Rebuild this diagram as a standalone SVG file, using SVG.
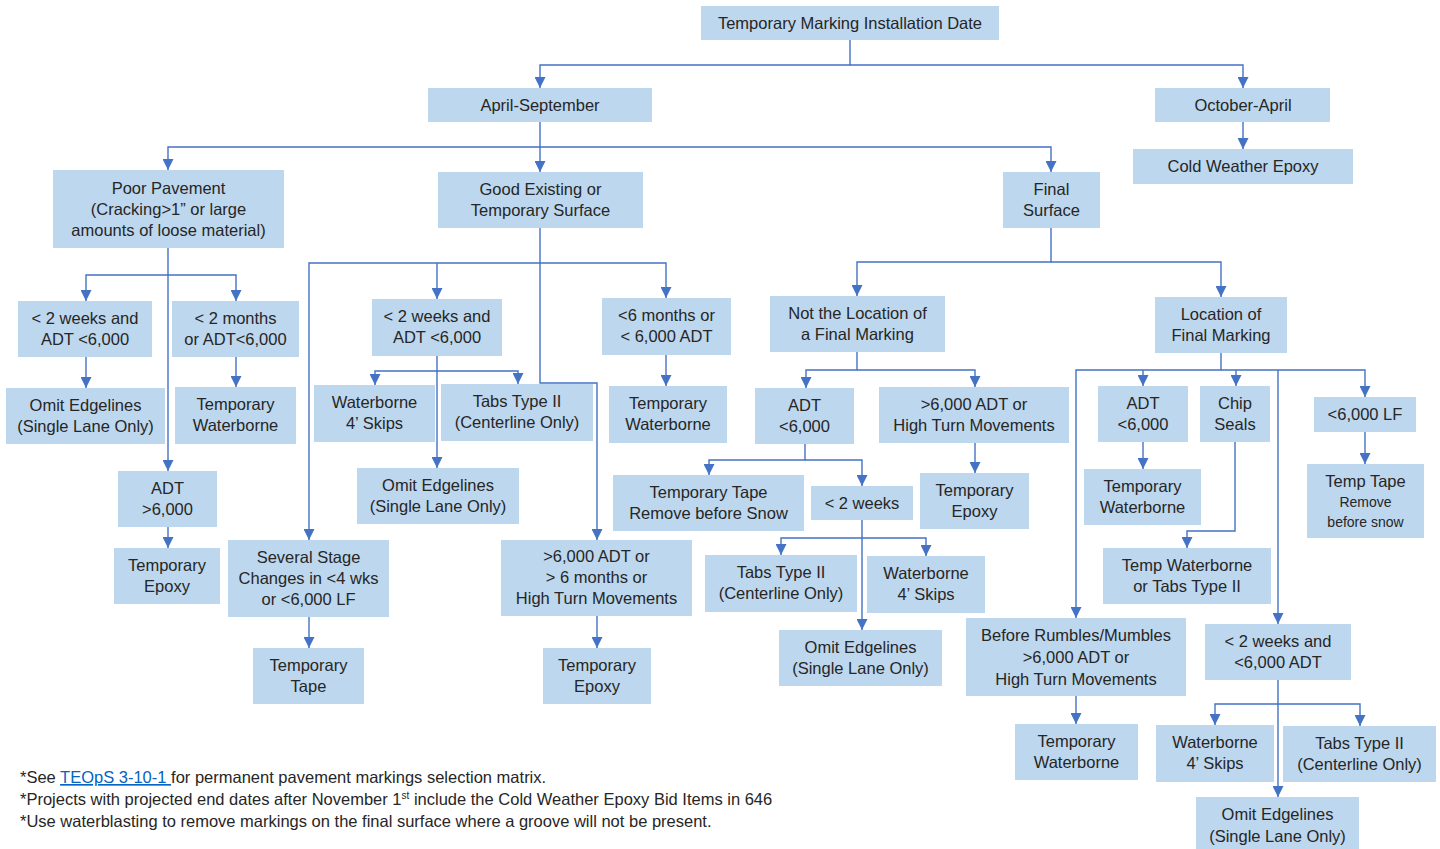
<svg xmlns="http://www.w3.org/2000/svg" width="1440" height="849" viewBox="0 0 1440 849">
<defs>
<style>
.n rect{fill:#BDD7EE;}
.n text{font-family:"Liberation Sans",Arial,sans-serif;font-size:16.5px;fill:#262626;text-anchor:middle;}
.n text .sm{font-size:14px;}
#connectors path{fill:none;stroke:#4472C4;stroke-width:1.4;marker-end:url(#arr);}
.fn{font-family:"Liberation Sans",Arial,sans-serif;font-size:16.5px;fill:#262626;}
.lnk{fill:#0563C1;text-decoration:underline;}
</style>
<marker id="arr" viewBox="0 0 10 10" refX="10" refY="5" markerWidth="11" markerHeight="11" markerUnits="userSpaceOnUse" orient="auto">
<path d="M0,0 L10,5 L0,10 z" fill="#4472C4"/>
</marker>
</defs>
<rect x="0" y="0" width="1440" height="849" fill="#FFFFFF"/>
<g id="connectors">
<path d="M850,40 V65 H540 V88"/>
<path d="M850,65 H1243 V88"/>
<path d="M1243,122 V149"/>
<path d="M540,122 V147 H168 V170"/>
<path d="M540,147 V172"/>
<path d="M540,147 H1051 V172"/>
<path d="M168,248 V275 H86 V301"/>
<path d="M168,275 H236 V301"/>
<path d="M168,275 V471"/>
<path d="M86,357 V388"/>
<path d="M236,356 V387"/>
<path d="M168,527 V548"/>
<path d="M540,228 V263 H309 V540"/>
<path d="M437,263 V299"/>
<path d="M540,263 H666 V298"/>
<path d="M540,263 V383 H597 V540"/>
<path d="M666,355 V386"/>
<path d="M437,356 V371 H375 V385"/>
<path d="M437,371 H518 V384"/>
<path d="M437,371 V468"/>
<path d="M309,617 V648"/>
<path d="M597,616 V648"/>
<path d="M1051,228 V262 H857 V296"/>
<path d="M1051,262 H1221 V297"/>
<path d="M857,352 V370 H806 V388"/>
<path d="M857,370 H975 V387"/>
<path d="M975,443 V473"/>
<path d="M805,444 V460 H709 V475"/>
<path d="M805,460 H862 V486"/>
<path d="M862,520 V538 H781 V555"/>
<path d="M862,538 H926 V556"/>
<path d="M862,538 V630"/>
<path d="M1221,353 V370 H1076 V618"/>
<path d="M1143,370 V386"/>
<path d="M1221,370 H1365 V397"/>
<path d="M1236,370 V386"/>
<path d="M1278,370 V624"/>
<path d="M1143,442 V469"/>
<path d="M1365,432 V464"/>
<path d="M1235,442 V531 H1187 V548"/>
<path d="M1076,696 V724"/>
<path d="M1278,680 V704 H1215 V725"/>
<path d="M1278,704 H1360 V726"/>
<path d="M1278,704 V797"/>
</g>
<g id="root" class="n"><rect x="701" y="6" width="298" height="34"/><text x="850" y="29">Temporary Marking Installation Date</text></g>
<g id="april" class="n"><rect x="428" y="88" width="224" height="34"/><text x="540" y="111">April-September</text></g>
<g id="october" class="n"><rect x="1155" y="88" width="175" height="34"/><text x="1243" y="111">October-April</text></g>
<g id="cold" class="n"><rect x="1133" y="149" width="220" height="35"/><text x="1243" y="172">Cold Weather Epoxy</text></g>
<g id="poor" class="n"><rect x="53" y="170" width="231" height="78"/><text x="168.5" y="194">Poor Pavement</text><text x="168.5" y="215">(Cracking&gt;1” or large</text><text x="168.5" y="236">amounts of loose material)</text></g>
<g id="good" class="n"><rect x="438" y="172" width="205" height="56"/><text x="540.5" y="195">Good Existing or</text><text x="540.5" y="216">Temporary Surface</text></g>
<g id="final" class="n"><rect x="1003" y="172" width="97" height="56"/><text x="1051.5" y="195">Final</text><text x="1051.5" y="216">Surface</text></g>
<g id="pp_2wk" class="n"><rect x="18" y="301" width="134" height="56"/><text x="85" y="324">&lt; 2 weeks and</text><text x="85" y="345">ADT &lt;6,000</text></g>
<g id="pp_2mo" class="n"><rect x="172" y="301" width="127" height="56"/><text x="235.5" y="324">&lt; 2 months</text><text x="235.5" y="345">or ADT&lt;6,000</text></g>
<g id="pp_omit" class="n"><rect x="6" y="388" width="159" height="56"/><text x="85.5" y="411">Omit Edgelines</text><text x="85.5" y="432">(Single Lane Only)</text></g>
<g id="pp_tw" class="n"><rect x="175" y="387" width="121" height="57"/><text x="235.5" y="410">Temporary</text><text x="235.5" y="431">Waterborne</text></g>
<g id="pp_adt" class="n"><rect x="118" y="471" width="99" height="56"/><text x="167.5" y="494">ADT</text><text x="167.5" y="515">&gt;6,000</text></g>
<g id="pp_te" class="n"><rect x="114" y="548" width="106" height="56"/><text x="167" y="571">Temporary</text><text x="167" y="592">Epoxy</text></g>
<g id="g_2wk" class="n"><rect x="372" y="299" width="130" height="57"/><text x="437" y="322">&lt; 2 weeks and</text><text x="437" y="343">ADT &lt;6,000</text></g>
<g id="g_6mo" class="n"><rect x="602" y="298" width="129" height="57"/><text x="666.5" y="321">&lt;6 months or</text><text x="666.5" y="342">&lt; 6,000 ADT</text></g>
<g id="g_tw" class="n"><rect x="609" y="386" width="118" height="57"/><text x="668" y="409">Temporary</text><text x="668" y="430">Waterborne</text></g>
<g id="g_wb" class="n"><rect x="314" y="385" width="121" height="57"/><text x="374.5" y="408">Waterborne</text><text x="374.5" y="429">4’ Skips</text></g>
<g id="g_tabs" class="n"><rect x="441" y="384" width="152" height="57"/><text x="517" y="407">Tabs Type II</text><text x="517" y="428">(Centerline Only)</text></g>
<g id="g_omit" class="n"><rect x="357" y="468" width="162" height="56"/><text x="438" y="491">Omit Edgelines</text><text x="438" y="512">(Single Lane Only)</text></g>
<g id="g_stage" class="n"><rect x="228" y="540" width="161" height="77"/><text x="308.5" y="563">Several Stage</text><text x="308.5" y="584">Changes in &lt;4 wks</text><text x="308.5" y="605">or &lt;6,000 LF</text></g>
<g id="g_tape" class="n"><rect x="253" y="648" width="111" height="56"/><text x="308.5" y="671">Temporary</text><text x="308.5" y="692">Tape</text></g>
<g id="g_6000" class="n"><rect x="501" y="540" width="191" height="76"/><text x="596.5" y="562">&gt;6,000 ADT or</text><text x="596.5" y="583">&gt; 6 months or</text><text x="596.5" y="604">High Turn Movements</text></g>
<g id="g_te" class="n"><rect x="543" y="648" width="108" height="56"/><text x="597" y="671">Temporary</text><text x="597" y="692">Epoxy</text></g>
<g id="f_not" class="n"><rect x="770" y="296" width="175" height="56"/><text x="857.5" y="319">Not the Location of</text><text x="857.5" y="340">a Final Marking</text></g>
<g id="f_loc" class="n"><rect x="1155" y="297" width="132" height="56"/><text x="1221" y="320">Location of</text><text x="1221" y="341">Final Marking</text></g>
<g id="fn_adt" class="n"><rect x="755" y="388" width="99" height="56"/><text x="804.5" y="411">ADT</text><text x="804.5" y="432">&lt;6,000</text></g>
<g id="fn_high" class="n"><rect x="879" y="387" width="190" height="56"/><text x="974" y="410">&gt;6,000 ADT or</text><text x="974" y="431">High Turn Movements</text></g>
<g id="fn_te" class="n"><rect x="920" y="473" width="109" height="56"/><text x="974.5" y="496">Temporary</text><text x="974.5" y="517">Epoxy</text></g>
<g id="fn_tape" class="n"><rect x="613" y="475" width="191" height="56"/><text x="708.5" y="498">Temporary Tape</text><text x="708.5" y="519">Remove before Snow</text></g>
<g id="fn_2wk" class="n"><rect x="811" y="486" width="102" height="34"/><text x="862" y="509">&lt; 2 weeks</text></g>
<g id="fn_tabs" class="n"><rect x="705" y="555" width="152" height="57"/><text x="781" y="578">Tabs Type II</text><text x="781" y="599">(Centerline Only)</text></g>
<g id="fn_wb" class="n"><rect x="867" y="556" width="118" height="57"/><text x="926" y="579">Waterborne</text><text x="926" y="600">4’ Skips</text></g>
<g id="fn_omit" class="n"><rect x="779" y="630" width="163" height="56"/><text x="860.5" y="653">Omit Edgelines</text><text x="860.5" y="674">(Single Lane Only)</text></g>
<g id="fl_adt" class="n"><rect x="1098" y="386" width="90" height="56"/><text x="1143" y="409">ADT</text><text x="1143" y="430">&lt;6,000</text></g>
<g id="fl_chip" class="n"><rect x="1200" y="386" width="70" height="56"/><text x="1235" y="409">Chip</text><text x="1235" y="430">Seals</text></g>
<g id="fl_lf" class="n"><rect x="1314" y="397" width="102" height="35"/><text x="1365" y="420">&lt;6,000 LF</text></g>
<g id="fl_tw" class="n"><rect x="1084" y="469" width="117" height="56"/><text x="1142.5" y="492">Temporary</text><text x="1142.5" y="513">Waterborne</text></g>
<g id="fl_tape" class="n"><rect x="1307" y="464" width="117" height="74"/><text x="1365.5" y="487">Temp Tape</text><text x="1365.5" y="507"><tspan class="sm">Remove</tspan></text><text x="1365.5" y="527"><tspan class="sm">before snow</tspan></text></g>
<g id="fl_chipres" class="n"><rect x="1103" y="548" width="168" height="56"/><text x="1187" y="571">Temp Waterborne</text><text x="1187" y="592">or Tabs Type II</text></g>
<g id="fl_before" class="n"><rect x="966" y="618" width="220" height="78"/><text x="1076" y="641">Before Rumbles/Mumbles</text><text x="1076" y="663">&gt;6,000 ADT or</text><text x="1076" y="685">High Turn Movements</text></g>
<g id="fl_btw" class="n"><rect x="1015" y="724" width="123" height="56"/><text x="1076.5" y="747">Temporary</text><text x="1076.5" y="768">Waterborne</text></g>
<g id="fl_2wk" class="n"><rect x="1205" y="624" width="146" height="56"/><text x="1278" y="647">&lt; 2 weeks and</text><text x="1278" y="668">&lt;6,000 ADT</text></g>
<g id="fl_wb" class="n"><rect x="1156" y="725" width="118" height="57"/><text x="1215" y="748">Waterborne</text><text x="1215" y="769">4’ Skips</text></g>
<g id="fl_tabs" class="n"><rect x="1283" y="726" width="153" height="56"/><text x="1359.5" y="749">Tabs Type II</text><text x="1359.5" y="770">(Centerline Only)</text></g>
<g id="fl_omit" class="n"><rect x="1196" y="797" width="163" height="60"/><text x="1277.5" y="820">Omit Edgelines</text><text x="1277.5" y="842">(Single Lane Only)</text></g>
<g id="notes">
<text class="fn" x="20" y="783">*See <tspan class="lnk">TEOpS 3-10-1 </tspan>for permanent pavement markings selection matrix.</text>
<text class="fn" x="20" y="805">*Projects with projected end dates after November 1<tspan font-size="10" dy="-6">st</tspan><tspan dy="6"> include the Cold Weather Epoxy Bid Items in 646</tspan></text>
<text class="fn" x="20" y="827">*Use waterblasting to remove markings on the final surface where a groove will not be present.</text>
</g>
</svg>
